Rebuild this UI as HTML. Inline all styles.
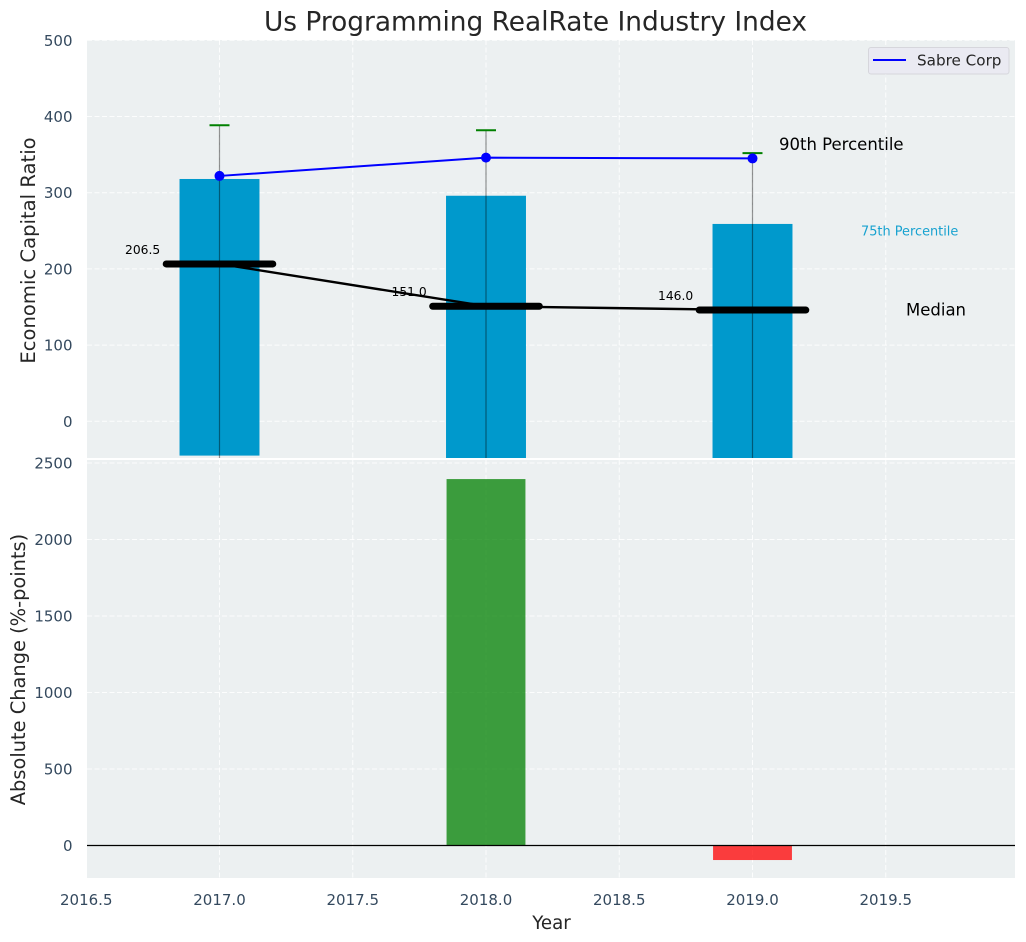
<!DOCTYPE html>
<html>
<head>
<meta charset="utf-8">
<title>Us Programming RealRate Industry Index</title>
<style>
html,body{margin:0;padding:0;background:#fff;width:1026px;height:942px;overflow:hidden}
svg{display:block;font-family:"DejaVu Sans","Liberation Sans",sans-serif}
</style>
</head>
<body>
<svg id="chart" xmlns="http://www.w3.org/2000/svg" width="1026" height="942" viewBox="0 0 1026 942"></svg>
<script>
const years = [2017, 2018, 2019];
const p90 = [388.5, 382, 352];
const p75 = [318, 296, 259];
const p25 = [-45, -50, -50];
const medians = [206.5, 151, 146];
const company = [322, 346, 345];
const changeYears = [2018, 2019];
const changes = [2395, -95];
const xTicks = [2016.5, 2017, 2017.5, 2018, 2018.5, 2019, 2019.5];
const topTicks = [0, 100, 200, 300, 400, 500];
const bottomTicks = [0, 500, 1000, 1500, 2000, 2500];

const svg = document.getElementById('chart');
const NS = 'http://www.w3.org/2000/svg';
function mk(tag, attrs, parent, txt) {
  const node = document.createElementNS(NS, tag);
  for (const k in attrs) node.setAttribute(k, attrs[k]);
  if (txt !== undefined) node.textContent = txt;
  (parent || svg).appendChild(node);
  return node;
}

const L = 87, R = 1015, T1 = 40, B1 = 458, T2 = 460, B2 = 878;
const xPos = v => 219.5 + (v - 2017) * 266.5;
const yTop = v => 421.3 - v * 0.762;
const yBot = v => 845.5 - v * 0.153;
const TICK = '#34495e', INK = '#262626', PANEL = '#ecf0f1';

const defs = mk('defs', {});
const c1 = mk('clipPath', {id: 'clip-top'}, defs);
mk('rect', {x: L, y: T1, width: R - L, height: B1 - T1}, c1);
const c2 = mk('clipPath', {id: 'clip-bottom'}, defs);
mk('rect', {x: L, y: T2, width: R - L, height: B2 - T2}, c2);

let el;
el = mk('rect', {x: L, y: T1, width: R - L, height: B1 - T1, fill: PANEL});


el = mk('rect', {x: L, y: T2, width: R - L, height: B2 - T2, fill: PANEL});



const topPlot = mk('g', {'clip-path': 'url(#clip-top)'});


const botPlot = mk('g', {'clip-path': 'url(#clip-bottom)'});



const gridStyle = {stroke: '#ffffff', 'stroke-width': 1, 'stroke-dasharray': '5 2.5', 'stroke-opacity': 0.85};
xTicks.forEach(t => {
  el = mk('line', Object.assign({x1: xPos(t), x2: xPos(t), y1: T1, y2: B1}, gridStyle), topPlot);
  
  
  el = mk('line', Object.assign({x1: xPos(t), x2: xPos(t), y1: T2, y2: B2}, gridStyle), botPlot);
  
  
  el = mk('text', {x: xPos(t), y: 905, 'text-anchor': 'middle', 'font-size': 15, fill: TICK}, svg, t.toFixed(1));
  
  
});
topTicks.forEach(t => {
  el = mk('line', Object.assign({x1: L, x2: R, y1: yTop(t), y2: yTop(t)}, gridStyle), topPlot);
  
  
  el = mk('text', {x: 72.5, y: yTop(t) + 5.5, 'text-anchor': 'end', 'font-size': 15, fill: TICK}, svg, String(t));
  
  
});
bottomTicks.forEach(t => {
  el = mk('line', Object.assign({x1: L, x2: R, y1: yBot(t), y2: yBot(t)}, gridStyle), botPlot);
  
  
  el = mk('text', {x: 72.5, y: yBot(t) + 5.5, 'text-anchor': 'end', 'font-size': 15, fill: TICK}, svg, String(t));
  
  
});

const BAR_HALF = 0.15;
years.forEach((y, i) => {
  el = mk('rect', {
    x: xPos(y - BAR_HALF), width: xPos(y + BAR_HALF) - xPos(y - BAR_HALF),
    y: yTop(p75[i]), height: yTop(p25[i]) - yTop(p75[i]), fill: '#0099cc'
  }, topPlot);
  
  
});
years.forEach((y, i) => {
  el = mk('line', {x1: xPos(y), x2: xPos(y), y1: yTop(p90[i]), y2: yTop(p25[i] - 30), stroke: '#000', 'stroke-opacity': 0.42, 'stroke-width': 1.2}, topPlot);
  
  
  el = mk('line', {x1: xPos(y - 0.0375), x2: xPos(y + 0.0375), y1: yTop(p90[i]), y2: yTop(p90[i]), stroke: '#008000', 'stroke-width': 2}, topPlot);
  
  
});

el = mk('polyline', {points: years.map((y, i) => xPos(y) + ',' + yTop(medians[i])).join(' '), fill: 'none', stroke: '#000', 'stroke-width': 2.4}, topPlot);


years.forEach((y, i) => {
  el = mk('line', {x1: xPos(y - 0.2), x2: xPos(y + 0.2), y1: yTop(medians[i]), y2: yTop(medians[i]), stroke: '#000', 'stroke-width': 7, 'stroke-linecap': 'round'}, topPlot);
  
  
});

el = mk('polyline', {points: years.map((y, i) => xPos(y) + ',' + yTop(company[i])).join(' '), fill: 'none', stroke: '#0000ff', 'stroke-width': 2}, topPlot);


years.forEach((y, i) => {
  el = mk('circle', {cx: xPos(y), cy: yTop(company[i]), r: 5, fill: '#0000ff'}, topPlot);
  
  
});

years.forEach((y, i) => {
  el = mk('text', {x: xPos(y) - 94.5, y: yTop(medians[i]) - 10, 'font-size': 12.3, fill: '#000'}, svg, medians[i].toFixed(1));
  
  
});

changeYears.forEach((y, i) => {
  const v = changes[i];
  el = mk('rect', {
    x: xPos(y - 0.148), width: xPos(y + 0.148) - xPos(y - 0.148),
    y: Math.min(yBot(v), yBot(0)), height: Math.abs(yBot(v) - yBot(0)),
    fill: v >= 0 ? '#008000' : '#ff0000', 'fill-opacity': 0.75
  }, botPlot);
  
  
});
el = mk('line', {x1: L, x2: R, y1: yBot(0), y2: yBot(0), stroke: '#000', 'stroke-width': 1.2}, botPlot);



el = mk('text', {x: 779, y: 150, 'font-size': 16.5, fill: '#000'}, svg, '90th Percentile');


el = mk('text', {x: 861, y: 235.5, 'font-size': 12.9, fill: '#0099cc', 'fill-opacity': 0.9}, svg, '75th Percentile');


el = mk('text', {x: 906, y: 315.5, 'font-size': 16.5, fill: '#000'}, svg, 'Median');



const legendGroup = mk('g', {});


el = mk('rect', {x: 868.5, y: 47.5, width: 140.5, height: 26.5, rx: 2.5, fill: '#eaeaf2', stroke: '#d6d6dc', 'stroke-width': 1}, legendGroup);


el = mk('line', {x1: 873, x2: 906, y1: 60, y2: 60, stroke: '#0000ff', 'stroke-width': 2}, legendGroup);


el = mk('text', {x: 917, y: 65.5, 'font-size': 15.2, fill: INK}, legendGroup, 'Sabre Corp');



el = mk('text', {x: 535.5, y: 30.5, 'text-anchor': 'middle', 'font-size': 26.4, fill: INK}, svg, 'Us Programming RealRate Industry Index');


el = mk('text', {x: 551.5, y: 929, 'text-anchor': 'middle', 'font-size': 18.2, fill: INK}, svg, 'Year');


el = mk('text', {transform: 'translate(35,250.5) rotate(-90)', 'text-anchor': 'middle', 'font-size': 19.6, fill: INK}, svg, 'Economic Capital Ratio');


el = mk('text', {transform: 'translate(25,669.5) rotate(-90)', 'text-anchor': 'middle', 'font-size': 19.4, fill: INK}, svg, 'Absolute Change (%-points)');


</script>
</body>
</html>
